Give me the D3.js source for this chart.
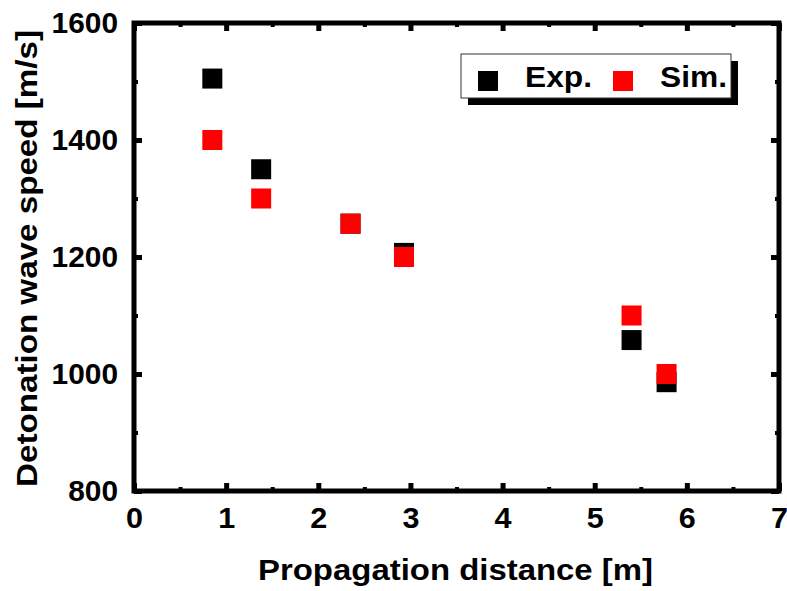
<!DOCTYPE html>
<html>
<head>
<meta charset="utf-8">
<script src="https://cdn.jsdelivr.net/npm/d3@7"></script>
<style>
body { margin: 0; background: #fff; }
svg { display: block; }
text { font-family: Arial, "Liberation Sans", sans-serif; font-weight: bold; fill: #000; }
</style>
</head>
<body>
<svg id="chart" width="787" height="591"></svg>
<script>
const distance = [0.85, 1.38, 2.35, 2.93, 5.40, 5.78];
const expSpeed = [1505, 1350, 1257, 1207, 1058, 986];
const simSpeed = [1400, 1300, 1257, 1200, 1100, 1000];
const xTicks = [0, 1, 2, 3, 4, 5, 6, 7];
const yTicks = [800, 1000, 1200, 1400, 1600];
const seriesNames = ["Exp.", "Sim."];
const seriesColors = ["#000000", "#ff0000"];

(function () {
const svg = d3.select("#chart");
const pL = 134, pR = 779, pT = 23, pB = 491;
const x = d3.scaleLinear().domain([0, 7]).range([pL, pR]);
const y = d3.scaleLinear().domain([800, 1600]).range([pB, pT]);

const g = svg.append("g");

const xMinor = d3.range(0.5, 7, 1);
const yMinor = d3.range(900, 1600, 200);

function tickStyle(sel, w) {
  sel.selectAll("path.domain").remove();
  sel.selectAll("line").attr("stroke", "#000").attr("stroke-width", w);
}

// bottom axis (major, inward)
const bAxis = g.append("g").attr("transform", `translate(0,${pB})`)
  .call(d3.axisBottom(x).tickValues(xTicks).tickSize(-8).tickPadding(16).tickFormat(d3.format("d")));
tickStyle(bAxis, 5);
bAxis.selectAll("text").attr("font-size", 29).attr("fill", "#000")
  .attr("textLength", 17).attr("lengthAdjust", "spacingAndGlyphs");
g.append("g").attr("transform", `translate(0,${pB})`)
  .call(d3.axisBottom(x).tickValues(xMinor).tickSize(-4).tickFormat(""))
  .call(s => tickStyle(s, 4));

// top axis
g.append("g").attr("transform", `translate(0,${pT})`)
  .call(d3.axisTop(x).tickValues(xTicks).tickSize(-8).tickFormat(""))
  .call(s => tickStyle(s, 5));
g.append("g").attr("transform", `translate(0,${pT})`)
  .call(d3.axisTop(x).tickValues(xMinor).tickSize(-4).tickFormat(""))
  .call(s => tickStyle(s, 4));

// left axis
const lAxis = g.append("g").attr("transform", `translate(${pL},0)`)
  .call(d3.axisLeft(y).tickValues(yTicks).tickSize(-8).tickPadding(16).tickFormat(d3.format("d")));
tickStyle(lAxis, 5);
lAxis.selectAll("text").attr("font-size", 29).attr("fill", "#000")
  .attr("textLength", d => String(d).length * 16.6).attr("lengthAdjust", "spacingAndGlyphs");
g.append("g").attr("transform", `translate(${pL},0)`)
  .call(d3.axisLeft(y).tickValues(yMinor).tickSize(-4).tickFormat(""))
  .call(s => tickStyle(s, 4));

// right axis
g.append("g").attr("transform", `translate(${pR},0)`)
  .call(d3.axisRight(y).tickValues(yTicks).tickSize(-8).tickFormat(""))
  .call(s => tickStyle(s, 5));
g.append("g").attr("transform", `translate(${pR},0)`)
  .call(d3.axisRight(y).tickValues(yMinor).tickSize(-4).tickFormat(""))
  .call(s => tickStyle(s, 4));

// frame
g.append("rect").attr("x", pL).attr("y", pT)
  .attr("width", pR - pL).attr("height", pB - pT)
  .attr("fill", "none").attr("stroke", "#000").attr("stroke-width", 5);

// data squares
const sz = 20;
[expSpeed, simSpeed].forEach((vals, i) => {
  g.append("g").selectAll("rect").data(vals).join("rect")
    .attr("x", (d, j) => x(distance[j]) - sz / 2)
    .attr("y", d => y(d) - sz / 2)
    .attr("width", sz).attr("height", sz)
    .attr("fill", seriesColors[i]);
});

// axis titles
svg.append("text").attr("x", 258).attr("y", 580)
  .attr("font-size", 29)
  .attr("textLength", 395).attr("lengthAdjust", "spacingAndGlyphs")
  .text("Propagation distance [m]");
svg.append("text")
  .attr("transform", `translate(37,487) rotate(-90)`)
  .attr("font-size", 30)
  .attr("textLength", 457).attr("lengthAdjust", "spacingAndGlyphs")
  .text("Detonation wave speed [m/s]");

// legend
const lg = svg.append("g");
const lx = 461, ly = 54, lw = 270, lh = 44;
lg.append("rect").attr("x", lx + 7).attr("y", ly + 7).attr("width", lw).attr("height", lh).attr("fill", "#000");
lg.append("rect").attr("x", lx).attr("y", ly).attr("width", lw).attr("height", lh)
  .attr("fill", "#fff").attr("stroke", "#333").attr("stroke-width", 1);
const legX = [488, 623];
seriesNames.forEach((name, i) => {
  lg.append("rect").attr("x", legX[i] - 10).attr("y", 71).attr("width", 20).attr("height", 20)
    .attr("fill", seriesColors[i]);
  lg.append("text").attr("x", legX[i] + 37).attr("y", 87).attr("font-size", 29)
    .attr("textLength", 67).attr("lengthAdjust", "spacingAndGlyphs").text(name);
});
})();
</script>
</body>
</html>
